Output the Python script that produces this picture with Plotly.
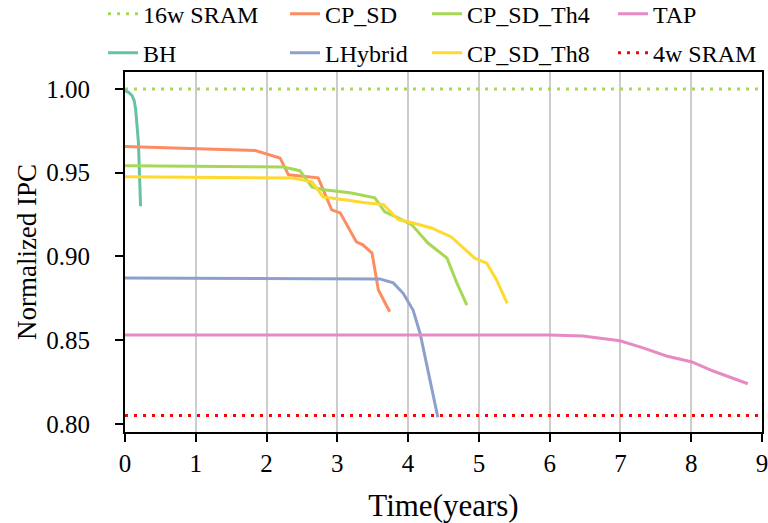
import plotly.graph_objects as go

# ---- data -------------------------------------------------------------
sram16_x = [0, 9]
sram16_y = [1.0, 1.0]

sram4_x = [0, 9]
sram4_y = [0.805, 0.805]

bh_x = [0.0, 0.05, 0.10, 0.13, 0.15, 0.17, 0.19, 0.20, 0.21, 0.22]
bh_y = [0.999, 0.998, 0.996, 0.993, 0.988, 0.980, 0.968, 0.955, 0.942, 0.930]

cpsd_x = [0.0, 1.84, 2.19, 2.31, 2.73, 2.92, 3.04, 3.27, 3.36, 3.49, 3.58, 3.74]
cpsd_y = [0.9656, 0.9632, 0.9588, 0.9487, 0.9469, 0.9278, 0.9260, 0.9087, 0.9069, 0.9020, 0.8800, 0.8670]

th4_x = [0.0, 2.24, 2.47, 2.64, 2.78, 3.18, 3.53, 3.67, 3.86, 4.05, 4.28, 4.55, 4.69, 4.83]
th4_y = [0.9542, 0.9534, 0.9512, 0.9415, 0.9400, 0.9380, 0.9350, 0.9266, 0.9230, 0.9190, 0.9080, 0.8990, 0.8840, 0.8710]

th8_x = [0.0, 2.37, 2.64, 2.80, 3.13, 3.39, 3.65, 3.86, 4.07, 4.33, 4.61, 4.78, 4.94, 5.11, 5.25, 5.40]
th8_y = [0.9475, 0.9468, 0.9445, 0.9355, 0.9337, 0.9320, 0.9310, 0.9220, 0.9200, 0.9170, 0.9116, 0.9050, 0.8990, 0.8960, 0.8860, 0.8720]

lhyb_x = [0.0, 3.40, 3.60, 3.79, 3.93, 4.07, 4.17, 4.28, 4.42]
lhyb_y = [0.8872, 0.8870, 0.8866, 0.8842, 0.8780, 0.8680, 0.8540, 0.8320, 0.8040]

tap_x = [0.0, 6.00, 6.47, 6.99, 7.32, 7.65, 8.01, 8.31, 8.80]
tap_y = [0.8531, 0.8531, 0.8525, 0.8497, 0.8454, 0.8406, 0.8370, 0.8316, 0.8240]

x_ticks = [0, 1, 2, 3, 4, 5, 6, 7, 8, 9]
y_ticks = [0.80, 0.85, 0.90, 0.95, 1.00]

# ---- styling ----------------------------------------------------------
FONT = "Liberation Serif"
C_GREEN = "#66c2a5"
C_ORANGE = "#fc8d62"
C_BLUE = "#8da0cb"
C_PINK = "#e78ac3"
C_LIME = "#a6d854"
C_YELLOW = "#ffd92f"
C_RED = "#ff0000"
LW = 3
DOT = "3px,6px"

fig = go.Figure()

def add(x, y, name, color, legend, dash="solid"):
    fig.add_trace(go.Scatter(
        x=x, y=y, name=name, mode="lines", legend=legend, legendgroup=name,
        line=dict(color=color, width=LW, dash=dash),
    ))

# legend column 1
add(sram16_x, sram16_y, "16w SRAM", C_LIME, "legend", DOT)
add(bh_x, bh_y, "BH", C_GREEN, "legend")
# legend column 2
add(cpsd_x, cpsd_y, "CP_SD", C_ORANGE, "legend2")
add(lhyb_x, lhyb_y, "LHybrid", C_BLUE, "legend2")
# legend column 3
add(th4_x, th4_y, "CP_SD_Th4", C_LIME, "legend3")
add(th8_x, th8_y, "CP_SD_Th8", C_YELLOW, "legend3")
# legend column 4
add(tap_x, tap_y, "TAP", C_PINK, "legend4")
add(sram4_x, sram4_y, "4w SRAM", C_RED, "legend4", DOT)

def legend_at(xpos):
    return dict(
        x=xpos, y=1.2235, xanchor="left", yanchor="top",
        orientation="v", bgcolor="rgba(0,0,0,0)", borderwidth=0,
        font=dict(family=FONT, size=24, color="black"),
        itemwidth=30, tracegroupgap=5,
    )

axis_common = dict(
    showline=True, linecolor="black", linewidth=2, mirror=True,
    ticks="outside", ticklen=8, tickwidth=2, tickcolor="black",
    tickfont=dict(family=FONT, size=25, color="black"),
    ticklabeloverflow="allow",
    zeroline=False,
)

fig.update_layout(
    width=768, height=523,
    margin=dict(l=125, r=6, t=72, b=91, autoexpand=False),
    paper_bgcolor="white", plot_bgcolor="white",
    font=dict(family=FONT, color="black"),
    legend=legend_at(-0.0345),
    legend2=legend_at(0.2512),
    legend3=legend_at(0.4741),
    legend4=legend_at(0.7661),
    xaxis=dict(
        range=[0, 9], tickvals=x_ticks,
        showgrid=True, gridcolor="#cccccc", gridwidth=1.5,
        title=dict(text="Time(years)", font=dict(family=FONT, size=31, color="black"), standoff=20),
        **axis_common,
    ),
    yaxis=dict(
        range=[0.7952, 1.0101], tickvals=y_ticks, tickformat=".2f",
        showgrid=False, ticklabelstandoff=20,
        title=dict(text="Normalized IPC", font=dict(family=FONT, size=27, color="black"), standoff=2),
        **axis_common,
    ),
)

fig.write_html("out.html")
